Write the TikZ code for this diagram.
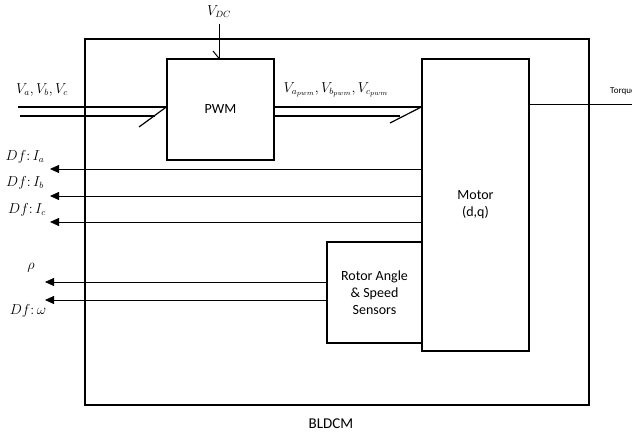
\documentclass[tikz,border=0pt]{standalone}
\usepackage{fontspec}
\setmainfont{Carlito}
\usetikzlibrary{arrows.meta}
\begin{document}
\begin{tikzpicture}[x=1pt,y=-1pt,
  box/.style={draw,line width=1.3pt,rectangle,inner sep=0pt,align=center,font=\fontsize{14}{17}\selectfont},
  sig/.style={line width=0.8pt,-{Triangle[length=9pt,width=8pt]}},
  bus/.style={line width=1.2pt},
  lbl/.style={inner sep=0pt,font=\fontsize{13.5}{16}\selectfont}]
\useasboundingbox (0,0) rectangle (632,435);
\node[box,minimum width=504pt,minimum height=366pt] (outer) at (337,222) {};
\node[box,minimum width=107pt,minimum height=101pt] (pwm) at (220.5,109.5) {PWM};
\node[box,minimum width=107pt,minimum height=292pt] (motor) at (475.5,205) {Motor\\(d,q)};
\node[box,minimum width=95pt,minimum height=101pt] (sens) at (374.5,292.5) {Rotor Angle\\\& Speed\\Sensors};
% labels
\node[lbl] (vdc) at (219,12) {$V_{DC}$};
\node[lbl] (vin) at (42,90) {$V_a, V_b, V_c$};
\node[lbl] (vpwm) at (336,90) {$V_{a_{pwm}}, V_{b_{pwm}}, V_{c_{pwm}}$};
\node[inner sep=0pt,anchor=west,font=\fontsize{9}{11}\selectfont] (tq) at (610,91) {Torque};
\node[lbl] (ia) at (25,157) {$Df\colon I_a$};
\node[lbl] (ib) at (25,183) {$Df\colon I_b$};
\node[lbl] (ic) at (27,210) {$Df\colon I_c$};
\node[lbl] (rho) at (31,268) {$\rho$};
\node[lbl] (om) at (28,311) {$Df\colon \omega$};
\node[inner sep=0pt,font=\fontsize{15}{18}\selectfont] (bl) at (331,424) {BLDCM};
% free ends
\coordinate (dcs) at (219,24);
\coordinate (in1) at (18,107);
\coordinate (in2) at (20,116);
\coordinate (tqe) at (640,105);
\coordinate (ea) at (50,169);
\coordinate (eb) at (50,196);
\coordinate (ec) at (50,222);
\coordinate (er) at (45,282);
\coordinate (ew) at (45,300);
% VDC
\draw[line width=1pt] (dcs) -- (dcs |- pwm.north);
\draw[line width=1pt] (213,51) -- (dcs |- pwm.north);
% input bus
\draw[bus] (in1) -- (in1 -| pwm.west);
\draw[bus] (in2) -- (155,116);
\draw[bus] (139,127) -- (in1 -| pwm.west);
% pwm to motor bus
\draw[bus] (pwm.east |- in1) -- (motor.west |- in1);
\draw[bus] (pwm.east |- in2) -- (400,116);
\draw[bus] (390,123) -- (motor.west |- in1);
% torque
\draw[line width=1pt] (motor.east |- tqe) -- (tqe);
% feedback
\draw[sig] (motor.west |- ea) -- (ea);
\draw[sig] (motor.west |- eb) -- (eb);
\draw[sig] (motor.west |- ec) -- (ec);
\draw[sig] (sens.west |- er) -- (er);
\draw[sig] (sens.west |- ew) -- (ew);
\end{tikzpicture}
\end{document}
